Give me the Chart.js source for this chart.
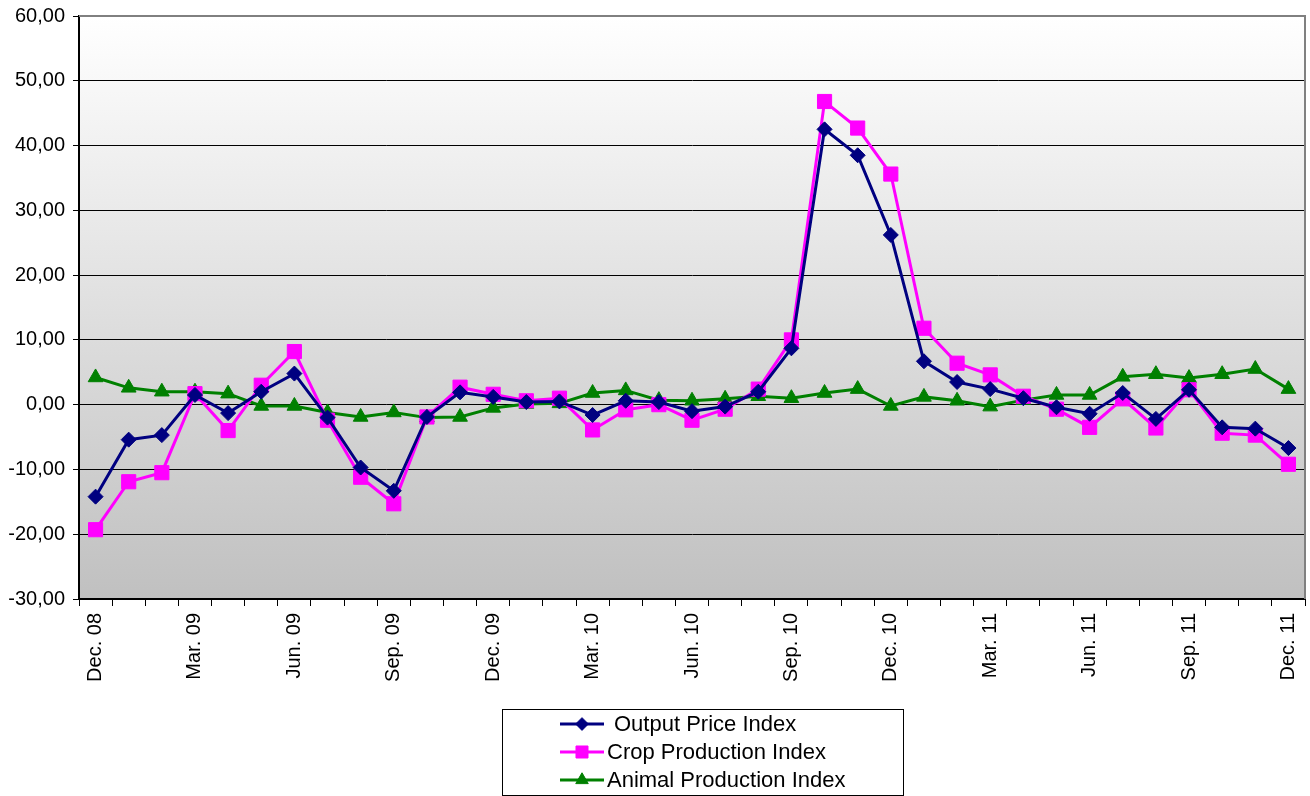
<!DOCTYPE html>
<html>
<head>
<meta charset="utf-8">
<script src="https://cdn.jsdelivr.net/npm/chart.js@4"></script>
<style>
  html, body { margin: 0; padding: 0; background: #ffffff; }
  #wrap { width: 1310px; height: 796px; position: relative; }
</style>
</head>
<body>
<div id="wrap"><canvas id="c" width="1310" height="796"></canvas></div>
<script>
const categories = [
  "Dec. 08","Jan. 09","Feb. 09","Mar. 09","Apr. 09","May. 09","Jun. 09","Jul. 09","Aug. 09","Sep. 09","Oct. 09","Nov. 09",
  "Dec. 09","Jan. 10","Feb. 10","Mar. 10","Apr. 10","May. 10","Jun. 10","Jul. 10","Aug. 10","Sep. 10","Oct. 10","Nov. 10",
  "Dec. 10","Jan. 11","Feb. 11","Mar. 11","Apr. 11","May. 11","Jun. 11","Jul. 11","Aug. 11","Sep. 11","Oct. 11","Nov. 11","Dec. 11"
];
const outputPriceIndex = [
  -14.2, -5.4, -4.7, 1.5, -1.3, 2.0, 4.8, -2.0, -9.7, -13.3, -1.9, 1.9,
  1.2, 0.4, 0.5, -1.6, 0.6, 0.4, -1.0, -0.3, 2.0, 8.7, 42.5, 38.5,
  26.2, 6.7, 3.5, 2.4, 1.0, -0.4, -1.4, 1.8, -2.2, 2.3, -3.5, -3.7, -6.7
];
const cropProductionIndex = [
  -19.3, -11.9, -10.5, 1.7, -4.0, 3.0, 8.2, -2.4, -11.2, -15.3, -1.9, 2.7,
  1.6, 0.6, 1.0, -3.9, -0.8, 0.0, -2.4, -0.7, 2.4, 10.0, 46.8, 42.7,
  35.6, 11.8, 6.4, 4.6, 1.3, -0.7, -3.5, 0.9, -3.6, 2.3, -4.4, -4.7, -9.2
];
const animalProductionIndex = [
  4.2, 2.6, 2.0, 2.0, 1.7, -0.2, -0.2, -1.2, -1.9, -1.2, -2.0, -1.9,
  -0.5, 0.1, 0.2, 1.8, 2.2, 0.7, 0.6, 0.9, 1.3, 1.0, 1.8, 2.4,
  -0.2, 1.2, 0.6, -0.3, 0.7, 1.5, 1.5, 4.3, 4.7, 4.1, 4.7, 5.5, 2.4
];
const seriesNames = ["Output Price Index", "Crop Production Index", "Animal Production Index"];
const yTicks = { min: -30, max: 60, step: 10 };

const colors = ["#000080", "#FF00FF", "#008000"];
const styles = ["rectRot", "rect", "triangle"];
const radii = [7.5, 10, 8.5];
const FONT = "'Liberation Sans', Arial, sans-serif";

const bgPlugin = {
  id: 'bg',
  beforeDraw(chart) {
    const { ctx, chartArea: a } = chart;
    const g = ctx.createLinearGradient(0, a.top, 0, a.bottom);
    g.addColorStop(0, '#ffffff');
    g.addColorStop(1, '#c0c0c0');
    ctx.save();
    ctx.fillStyle = g;
    ctx.fillRect(a.left, a.top, a.right - a.left, a.bottom - a.top);
    ctx.restore();
  },
  afterDatasetsDraw(chart) {
    const { ctx, chartArea: a } = chart;
    ctx.save();
    ctx.strokeStyle = '#808080';
    ctx.lineWidth = 2;
    ctx.beginPath();
    ctx.moveTo(a.left, a.top);
    ctx.lineTo(a.right, a.top);
    ctx.lineTo(a.right, a.bottom);
    ctx.stroke();
    ctx.restore();
  }
};

const legendPlugin = {
  id: 'boxLegend',
  afterDraw(chart) {
    const ctx = chart.ctx;
    const bx = 502, by = 709, bw = 401, bh = 86;
    ctx.save();
    ctx.strokeStyle = '#000';
    ctx.lineWidth = 1;
    ctx.strokeRect(bx + 0.5, by + 0.5, bw, bh);
    ctx.font = '22px ' + FONT;
    ctx.textBaseline = 'middle';
    ctx.fillStyle = '#000';
    const rows = [724, 752, 780];
    const textX = [614, 607, 607];
    for (let i = 0; i < 3; i++) {
      const y = rows[i];
      ctx.strokeStyle = colors[i];
      ctx.lineWidth = 3;
      ctx.beginPath();
      ctx.moveTo(560, y);
      ctx.lineTo(604, y);
      ctx.stroke();
      ctx.fillStyle = colors[i];
      ctx.strokeStyle = colors[i];
      ctx.lineWidth = 1;
      Chart.helpers.drawPoint(ctx, { pointStyle: styles[i], radius: radii[i] * 0.85, rotation: 0, borderWidth: 1 }, 582, y);
      ctx.fillStyle = '#000';
      ctx.fillText(seriesNames[i], textX[i], y + 1);
    }
    ctx.restore();
  }
};

const datasets = [outputPriceIndex, cropProductionIndex, animalProductionIndex].map((d, i) => ({
  label: seriesNames[i],
  data: d,
  borderColor: colors[i],
  backgroundColor: colors[i],
  borderWidth: 3,
  pointStyle: styles[i],
  pointRadius: radii[i],
  pointHoverRadius: radii[i],
  pointBorderWidth: 1,
  pointBackgroundColor: colors[i],
  pointBorderColor: colors[i],
  tension: 0,
  fill: false
}));

new Chart(document.getElementById('c'), {
  type: 'line',
  data: { labels: categories, datasets },
  options: {
    responsive: false,
    animation: false,
    events: [],
    layout: { autoPadding: false, padding: { left: 0, right: 5, top: 16, bottom: 110 } },
    plugins: { legend: { display: false }, tooltip: { enabled: false } },
    scales: {
      x: {
        type: 'category',
        offset: true,
        grid: { offset: true, drawOnChartArea: false, drawTicks: true, tickLength: 7, color: '#000', lineWidth: 1 },
        border: { display: true, color: '#000', width: 2 },
        ticks: {
          autoSkip: false,
          maxRotation: 90,
          minRotation: 90,
          padding: 7,
          color: '#000',
          font: { family: FONT, size: 20 },
          callback: function (v, i) { return i % 3 === 0 ? categories[i] : ''; }
        },
        afterFit(scale) { scale.height = 87; scale.paddingRight = 0; scale.paddingLeft = 0; }
      },
      y: {
        min: yTicks.min,
        max: yTicks.max,
        grid: { drawOnChartArea: true, drawTicks: true, tickLength: 6, color: '#000', lineWidth: 1 },
        border: { display: true, color: '#000', width: 2 },
        ticks: {
          stepSize: yTicks.step,
          padding: 8,
          color: '#000',
          font: { family: FONT, size: 20 },
          callback: function (v) { return v.toFixed(2).replace('.', ','); }
        },
        afterFit(scale) { scale.width = 79; scale.paddingTop = 0; scale.paddingBottom = 0; }
      }
    }
  },
  plugins: [bgPlugin, legendPlugin]
});
</script>
</body>
</html>
